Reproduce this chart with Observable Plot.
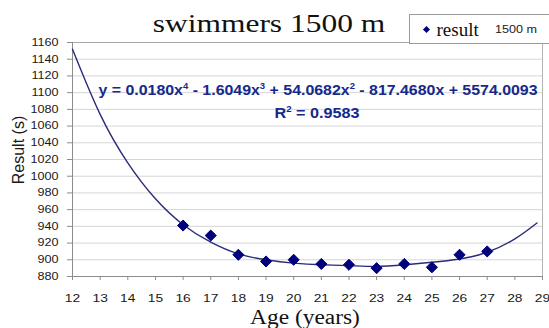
<!DOCTYPE html>
<html>
<head>
<meta charset="utf-8">
<script src="https://cdn.jsdelivr.net/npm/d3@7"></script>
<script src="https://cdn.jsdelivr.net/npm/@observablehq/plot@0.6"></script>
<style>
  body { margin: 0; background: #fff; }
  #wrap { position: relative; width: 549px; height: 328px; overflow: hidden; background: #fff; }
  #wrap svg { position: absolute; left: 0; top: 0; }
  .t { position: absolute; white-space: nowrap; line-height: 1; }
  .serif { font-family: "Liberation Serif", "Times New Roman", serif; color: #111; }
  .sans { font-family: "Liberation Sans", Arial, sans-serif; }
  .eq { font-weight: bold; color: #16288c; font-size: 15px; }
  .eq sup { font-size: 0.6em; vertical-align: 0.65em; line-height: 0; }
</style>
</head>
<body>
<div id="wrap"></div>
<script>
// ---- data ----
const ages = [16, 17, 18, 19, 20, 21, 22, 23, 24, 25, 26, 27];
const results = [941, 929, 906, 898, 900, 895, 894, 890, 895, 891, 906, 910];

// trendline (polynomial, order 4) as drawn in the picture
const trendAges = [12, 13, 14, 15, 16, 17, 18, 19, 20, 21, 22, 23, 24, 25, 26, 27, 28, 28.8];
const trendValues = [1152, 1074, 1016, 973, 942, 921, 907, 900, 896, 894, 893, 892, 894, 897, 901, 909, 925, 944];

const xTicks = [12, 13, 14, 15, 16, 17, 18, 19, 20, 21, 22, 23, 24, 25, 26, 27, 28, 29];
const yTicks = [880, 900, 920, 940, 960, 980, 1000, 1020, 1040, 1060, 1080, 1100, 1120, 1140, 1160];

const titleText = "swimmers 1500 m";
const xLabel = "Age (years)";
const yLabel = "Result (s)";
const legendLabel = "result";
const legendSub = "1500 m";
const equationHTML = "y = 0.0180x<sup>4</sup> - 1.6049x<sup>3</sup> + 54.0682x<sup>2</sup> - 817.4680x + 5574.0093";
const r2HTML = "R<sup>2</sup> = 0.9583";

const points = ages.map((a, i) => ({age: a, result: results[i]}));
const trend = trendAges.map((a, i) => ({age: a, result: trendValues[i]}));

const navy = "#00007a";

const chart = Plot.plot({
  width: 549,
  height: 328,
  marginLeft: 72,
  marginRight: 7,
  marginTop: 42,
  marginBottom: 52,
  style: {fontFamily: "Liberation Sans, Arial, sans-serif", background: "transparent", color: "#1a1a1a"},
  x: {domain: [12, 29]},
  y: {domain: [880, 1160]},
  marks: [
    Plot.gridY(yTicks, {stroke: "#d6d6d6", strokeOpacity: 1}),
    Plot.ruleY([1160], {stroke: "#a8a8a8"}),
    Plot.ruleX([29], {stroke: "#b4b4b4"}),
    Plot.axisY(yTicks, {tickSize: 5, tickPadding: 9, label: null, tickFormat: d3.format("d"), fontSize: 10.5, stroke: "#8c8c8c", fill: "#1a1a1a"}),
    Plot.axisX(xTicks, {tickSize: 4, tickPadding: 13, label: null, tickFormat: d3.format("d"), fontSize: 11.5, stroke: "#8c8c8c", fill: "#1a1a1a"}),
    Plot.ruleY([880], {stroke: "#8c8c8c"}),
    Plot.ruleX([12], {stroke: "#8c8c8c"}),
    Plot.line(trend, {x: "age", y: "result", curve: "natural", stroke: "#2b2b7d", strokeWidth: 1.4}),
    Plot.dot(points, {x: "age", y: "result", symbol: "diamond2", r: 5, fill: navy, stroke: navy, strokeWidth: 1})
  ]
});

// horizontal stretch of tick labels, as in the reference picture
function stretch(sel, k) {
  d3.select(chart).selectAll(sel).each(function () {
    const t = this.getAttribute("transform");
    if (t) {
      this.setAttribute("transform", t + ` scale(${k},1)`);
    } else {
      const x = +this.getAttribute("x") || 0, y = +this.getAttribute("y") || 0;
      this.removeAttribute("x"); this.removeAttribute("y");
      this.setAttribute("transform", `translate(${x},${y}) scale(${k},1)`);
    }
  });
}
stretch('g[aria-label="y-axis tick label"] text', 1.2);
stretch('g[aria-label="x-axis tick label"] text', 1.2);

const wrap = document.getElementById("wrap");
wrap.appendChild(chart);

function addText(html, cls, css) {
  const d = document.createElement("div");
  d.className = "t " + cls;
  d.innerHTML = html;
  Object.assign(d.style, css);
  wrap.appendChild(d);
  return d;
}

// title
addText(titleText, "serif", {fontSize: "26px", left: "269px", top: "10.5px", transform: "translateX(-50%) scaleX(1.21)"});
// equation + R2
addText(equationHTML, "sans eq", {left: "318px", top: "82.3px", transform: "translateX(-50%) scaleX(1.06)"});
addText(r2HTML, "sans eq", {left: "317px", top: "105.3px", transform: "translateX(-50%) scaleX(1.08)"});
// axis titles
addText(xLabel, "serif", {fontSize: "20px", left: "305px", top: "306.5px", transform: "translateX(-50%) scaleX(1.17)"});
addText(yLabel, "sans", {fontSize: "16px", color: "#1a1a1a", left: "19px", top: "150px", transform: "translate(-50%,-50%) rotate(-90deg)"});

// legend
const box = document.createElement("div");
Object.assign(box.style, {position: "absolute", left: "409px", top: "14px", width: "160px", height: "30px",
  border: "1px solid #9a9a9a", background: "#fff", boxSizing: "border-box"});
wrap.appendChild(box);
const sw = document.createElement("div");
Object.assign(sw.style, {position: "absolute", left: "423.5px", top: "26.7px", width: "5px", height: "5px",
  background: navy, transform: "rotate(45deg)"});
wrap.appendChild(sw);
addText(legendLabel, "serif", {fontSize: "19px", left: "436.5px", top: "20.1px"});
addText(legendSub, "sans", {fontSize: "10.5px", color: "#1a1a1a", left: "495px", top: "24.4px", transformOrigin: "left center", transform: "scaleX(1.2)"});
</script>
</body>
</html>
